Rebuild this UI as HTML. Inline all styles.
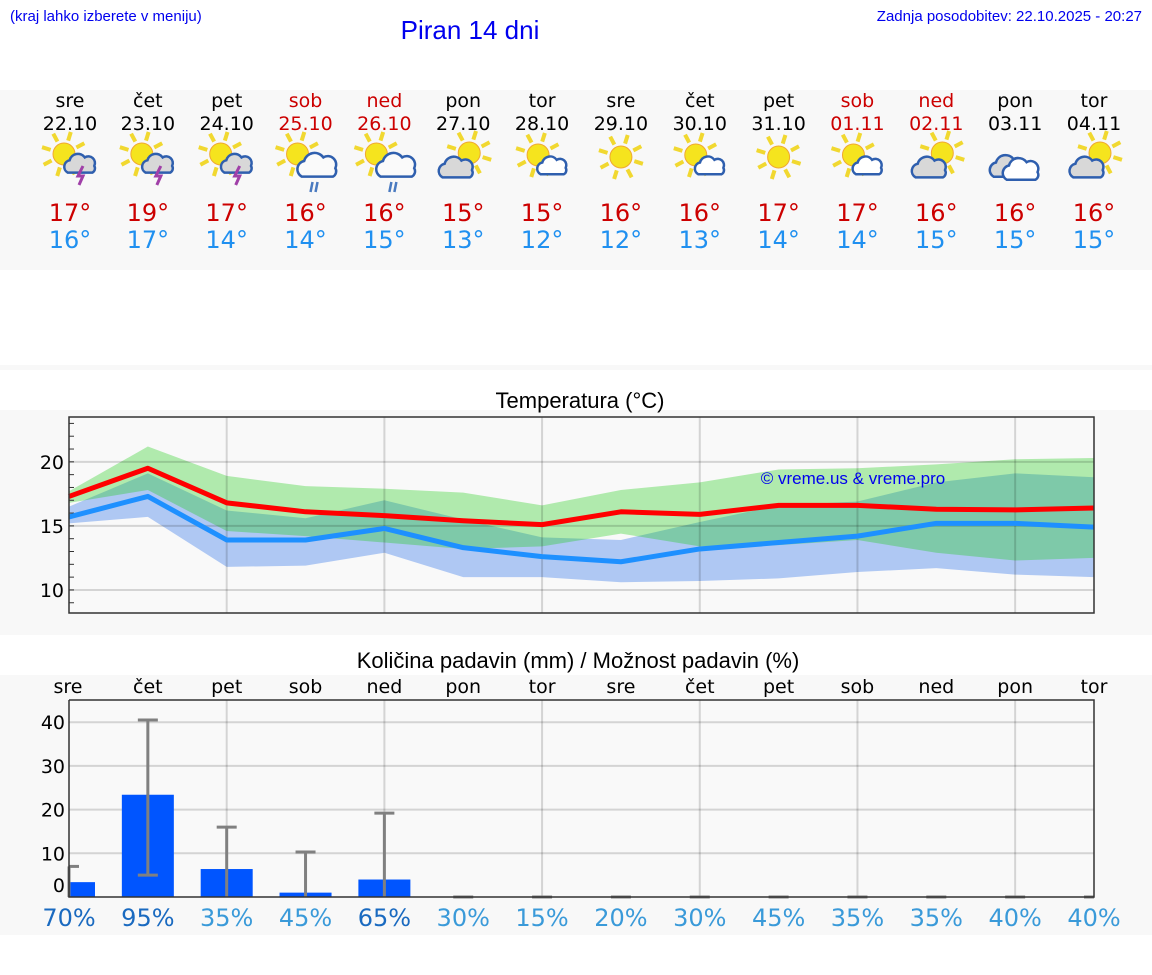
<!DOCTYPE html>
<html><head><meta charset="utf-8"><title>Piran 14 dni</title>
<style>
html,body{margin:0;padding:0;background:#fff;width:1152px;height:975px;overflow:hidden}
svg{display:block;font-family:"DejaVu Sans",sans-serif}
.ar{font-family:"Liberation Sans",sans-serif}
</style></head>
<body>
<svg id="s" width="1152" height="975" viewBox="0 0 1152 975" xmlns="http://www.w3.org/2000/svg">
  <text class="ar" x="10" y="21" font-size="15" fill="#0000ee">(kraj lahko izberete v meniju)</text>
  <text class="ar" x="470" y="39" font-size="26" fill="#0000ee" text-anchor="middle">Piran 14 dni</text>
  <text class="ar" x="1142" y="21" font-size="15" fill="#0000ee" text-anchor="end">Zadnja posodobitev: 22.10.2025 - 20:27</text>
  <rect x="0" y="90" width="1152" height="180" fill="#f8f8f8"/>
  <rect x="0" y="365" width="1152" height="5" fill="#f8f8f8"/>
  <rect x="0" y="410" width="1152" height="225" fill="#f8f8f8"/>
  <rect x="0" y="675" width="1152" height="260" fill="#f8f8f8"/>
  <g id="hdr"></g>
  <text class="ar" x="580" y="408" font-size="22" text-anchor="middle" fill="#000">Temperatura (°C)</text>
  <g id="temp"></g>
  <text class="ar" x="578" y="668" font-size="22" text-anchor="middle" fill="#000">Količina padavin (mm) / Možnost padavin (%)</text>
  <g id="prec"></g>
</svg>
<script>
const days=["sre","čet","pet","sob","ned","pon","tor","sre","čet","pet","sob","ned","pon","tor"];
const dates=["22.10","23.10","24.10","25.10","26.10","27.10","28.10","29.10","30.10","31.10","01.11","02.11","03.11","04.11"];
const weekend=[0,0,0,1,1,0,0,0,0,0,1,1,0,0];
const icons=["storm","storm","storm","rain","rain","greycloud","smallcloud","sun","smallcloud","sun","smallcloud","greycloud","clouds","greycloud"];
const maxT=[17,19,17,16,16,15,15,16,16,17,17,16,16,16];
const minT=[16,17,14,14,15,13,12,12,13,14,14,15,15,15];
const maxLine=[17.3,19.5,16.8,16.1,15.8,15.4,15.1,16.1,15.9,16.6,16.6,16.3,16.25,16.4];
const minLine=[15.7,17.3,13.9,13.9,14.8,13.3,12.6,12.2,13.2,13.7,14.2,15.2,15.2,14.9];
const maxBandHi=[17.7,21.2,18.9,18.1,17.9,17.6,16.6,17.8,18.4,19.4,19.5,19.8,20.2,20.3];
const maxBandLo=[16.8,17.8,14.6,14.2,13.7,13.2,13.4,14.4,13.4,13.5,13.9,12.9,12.3,12.5];
const minBandHi=[16.5,19.1,16.2,15.6,17.0,15.5,14.1,13.9,15.3,16.6,16.9,18.4,19.1,18.8];
const minBandLo=[15.2,15.7,11.8,11.9,12.9,11.0,11.0,10.6,10.7,10.9,11.4,11.7,11.2,11.0];
const tempTicks=[10,15,20];
const rain=[3.4,23.4,6.4,1.0,4.0,0,0,0,0,0,0,0,0,0];
const rainHi=[7,40.5,16,10.3,19.2,0,0,0,0,0,0,0,0,0];
const rainLo=[0,5,0,0,0,0,0,0,0,0,0,0,0,0];
const chance=[70,95,35,45,65,30,15,20,30,45,35,35,40,40];
const rainTicks=[0,10,20,30,40];

const NS="http://www.w3.org/2000/svg";
function mk(tag,attrs,parent,text){const e=document.createElementNS(NS,tag);for(const k in attrs)e.setAttribute(k,attrs[k]);if(text!==undefined)e.textContent=text;parent.appendChild(e);return e;}
const X0=69,X1=1094,N=days.length;
function xd(i){return X0+(X1-X0)*i/(N-1);}
const TY0=417,TY1=613,TV0=23.5,TV1=8.2;
function ty(v){return TY0+(TV0-v)*(TY1-TY0)/(TV0-TV1);}
const PY0=700,PY1=897;
function py(v){return PY1-v*4.37;}

const hdr=document.getElementById('hdr');
function sun(g,cx,cy,r){
  for(let a=0;a<8;a++){const t=a*Math.PI/4+0.3;mk('line',{x1:cx+Math.cos(t)*(r+3),y1:cy+Math.sin(t)*(r+3),x2:cx+Math.cos(t)*(r+12),y2:cy+Math.sin(t)*(r+12),stroke:'#f1d830','stroke-width':4},g);}
  mk('circle',{cx:cx,cy:cy,r:r,fill:'#f5e41e',stroke:'#f0a830','stroke-width':1},g);
}
function cloud(g,cx,cy,s,fill){
  const p=`M${cx-14*s},${cy+8*s} a${7*s},${7*s} 0 0 1 ${2*s},${-13*s} a${9*s},${9*s} 0 0 1 ${16*s},${-3*s} a${7*s},${7*s} 0 0 1 ${10*s},${9*s} a${5*s},${5*s} 0 0 1 ${-2*s},${7*s} Z`;
  mk('path',{d:p,fill:fill,stroke:'#2f5fae','stroke-width':2.5},g);
}
for(let i=0;i<N;i++){
  const x=xd(i)-(i===0?-1:0);
  const c=weekend[i]?'#cc0000':'#000';
  const g=mk('g',{},hdr);
  
  
  mk('text',{x:x,y:107,'font-size':19,fill:c,'text-anchor':'middle'},g,days[i]);
  mk('text',{x:x,y:130,'font-size':19,fill:c,'text-anchor':'middle'},g,dates[i]);
  const ic=mk('g',{},g);
  
  
  const t=icons[i];
  if(t==='sun'){sun(ic,x,157,11);}
  else if(t==='smallcloud'){sun(ic,x-4,155,11);cloud(ic,x+11,167,0.9,'#fff');}
  else if(t==='greycloud'){sun(ic,x+6,153,11);cloud(ic,x-6,169,1.05,'#d8d8d8');}
  else if(t==='storm'){sun(ic,x-6,154,11);cloud(ic,x+11,165,0.95,'#d8d8d8');mk('path',{d:`M${x+13},${166} l-5,10 h5 l-4,9`,fill:'none',stroke:'#a040a8','stroke-width':3},ic);}
  else if(t==='rain'){sun(ic,x-8,154,11);cloud(ic,x+13,167,1.2,'#fafafa');mk('path',{d:`M${x+7},${182} l-2,10 M${x+12},${182} l-2,10`,stroke:'#4a7ac0','stroke-width':2.5},ic);}
  else if(t==='clouds'){cloud(ic,x-6,168,1.1,'#d8d8d8');cloud(ic,x+7,171,1.1,'#fff');}
  mk('text',{x:x,y:221,'font-size':24,fill:'#cc0000','text-anchor':'middle'},g,maxT[i]+'°');
  mk('text',{x:x,y:248,'font-size':24,fill:'#2090f0','text-anchor':'middle'},g,minT[i]+'°');
}

const tg=document.getElementById('temp');
mk('rect',{x:X0,y:TY0,width:X1-X0,height:TY1-TY0,fill:'#f9f9f9'},tg);
function band(hi,lo,fill,name){
  let d='';for(let i=0;i<N;i++)d+=(i?'L':'M')+xd(i)+','+ty(hi[i]);
  for(let i=N-1;i>=0;i--)d+='L'+xd(i)+','+ty(lo[i]);
  const p=mk('path',{d:d+'Z',fill:fill},tg);
  
  
}
band(minBandHi,minBandLo,'#afc8f3','min-temp-range-band');
band(maxBandHi,maxBandLo,'rgba(27,204,19,0.33)','max-temp-range-band');
for(let i=2;i<N;i+=2){mk('line',{x1:xd(i),y1:TY0,x2:xd(i),y2:TY1,stroke:'rgba(0,0,0,0.15)','stroke-width':2},tg);}
tempTicks.forEach(v=>{
  mk('line',{x1:X0,y1:ty(v),x2:X1,y2:ty(v),stroke:'rgba(0,0,0,0.15)','stroke-width':2},tg);
  const t=mk('text',{x:X0-5,y:ty(v)+7,'font-size':19,'text-anchor':'end',fill:'#000'},tg,String(v));
  
  
});
for(let v=9;v<=23;v++){mk('line',{x1:X0,y1:ty(v),x2:X0+5,y2:ty(v),stroke:'#333','stroke-width':1},tg);}
function line(arr,col,name){
  const p=mk('polyline',{points:arr.map((v,i)=>xd(i)+','+ty(v)).join(' '),fill:'none',stroke:col,'stroke-width':5,'stroke-linejoin':'round'},tg);
  
  
}
line(minLine,'#1e90ff','min-temp-line');
line(maxLine,'#ff0000','max-temp-line');
const cr=mk('text',{x:853,y:484,'font-size':17,fill:'#0000ee','text-anchor':'middle',class:'ar'},tg,'© vreme.us & vreme.pro');


mk('rect',{x:X0,y:TY0,width:X1-X0,height:TY1-TY0,fill:'none',stroke:'#333','stroke-width':1.5},tg);

const pg=document.getElementById('prec');
for(let i=0;i<N;i++){
  const t=mk('text',{x:xd(i)-(i===0?1:0),y:693,'font-size':19,'text-anchor':'middle',fill:'#000'},pg,days[i]);
  
  
}
mk('rect',{x:X0,y:PY0,width:X1-X0,height:PY1-PY0,fill:'#f9f9f9'},pg);
for(let i=2;i<N;i+=2){mk('line',{x1:xd(i),y1:PY0,x2:xd(i),y2:PY1,stroke:'rgba(0,0,0,0.15)','stroke-width':2},pg);}
rainTicks.forEach(v=>{
  if(v>0)mk('line',{x1:X0,y1:py(v),x2:X1,y2:py(v),stroke:'rgba(0,0,0,0.15)','stroke-width':2},pg);
  const t=mk('text',{x:X0-4,y:(v===0?py(v)-5:py(v)+7),'font-size':19,'text-anchor':'end',fill:'#000'},pg,String(v));
  
  
});
for(let i=0;i<N;i++){
  const x=xd(i);
  let bx=x-26,bw=52;
  if(i===0){bx=X0;bw=26;} if(i===N-1){bw=26;}
  if(rain[i]>0){
    const b=mk('rect',{x:bx,y:py(rain[i]),width:bw,height:PY1-py(rain[i]),fill:'#0055ff'},pg);
    
    
  }
  const e=mk('g',{stroke:'#808080','stroke-width':3},pg);
  
  
  mk('line',{x1:x,y1:py(rainLo[i]),x2:x,y2:py(rainHi[i])},e);
  mk('line',{x1:Math.max(X0,x-10),y1:py(rainHi[i]),x2:Math.min(X1,x+10),y2:py(rainHi[i])},e);
  if(rainLo[i]>0)mk('line',{x1:x-10,y1:py(rainLo[i]),x2:x+10,y2:py(rainLo[i])},e);
  const c=chance[i]>=50?'#1a6ac0':'#3a9ad9';
  const t=mk('text',{x:x,y:926,'font-size':24,'text-anchor':'middle',fill:c},pg,chance[i]+'%');
  
  
}
mk('polyline',{points:`${X0},${PY0} ${X1},${PY0} ${X1},${PY1} ${X0},${PY1} ${X0},${PY0}`,fill:'none',stroke:'#333','stroke-width':1.5},pg);
</script>
</body></html>
